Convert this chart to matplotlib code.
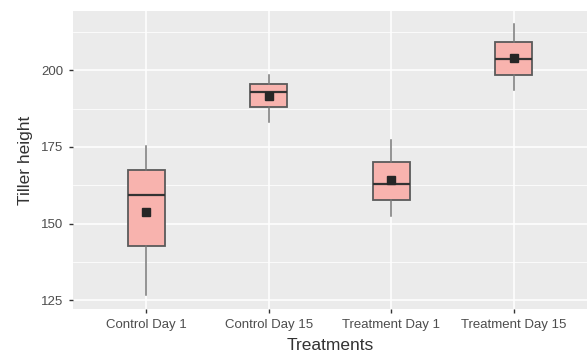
import matplotlib
matplotlib.use("Agg")
import matplotlib.pyplot as plt

plt.rcParams['font.family'] = ['Liberation Sans', 'DejaVu Sans']

# values
groups = ['Control Day 1', 'Control Day 15', 'Treatment Day 1', 'Treatment Day 15']
whislo = [126.7, 183.0, 152.6, 193.6]
q1 = [142.8, 187.9, 157.7, 198.6]
med = [159.3, 193.0, 162.9, 203.6]
q3 = [167.4, 195.6, 170.0, 209.2]
whishi = [175.4, 198.5, 177.2, 215.0]
means = [153.8, 191.5, 164.2, 204.0]

stats = []
for i in range(len(groups)):
    stats.append(dict(label=groups[i], whislo=whislo[i], q1=q1[i], med=med[i],
                      q3=q3[i], whishi=whishi[i], mean=means[i], fliers=[]))

fig = plt.figure(figsize=(5.87, 3.62), dpi=100)
ax = fig.add_axes([73/587, 1-309/362, 1-73/587, 298/362])
ax.set_facecolor('#EBEBEB')

pos = list(range(1, len(groups)+1))
ax.bxp(stats, positions=pos, widths=0.3, patch_artist=True, showmeans=True,
       showcaps=False, showfliers=False,
       boxprops=dict(facecolor='#F8B3AE', edgecolor='#5a5a5a', linewidth=1.3),
       medianprops=dict(color='#333333', linewidth=1.6),
       whiskerprops=dict(color='#777777', linewidth=1.1),
       meanprops=dict(marker='s', markerfacecolor='#262626', markeredgecolor='#262626',
                      markersize=6),
       zorder=3)

ax.set_xlim(0.4, 4.6)
ax.set_ylim(122.2, 219.3)
ax.set_yticks([125, 150, 175, 200])
ax.set_yticks([137.5, 162.5, 187.5, 212.5], minor=True)
ax.set_xticks(pos)
ax.set_xticklabels(groups)

ax.grid(True, which='major', color='white', linewidth=1.1, zorder=0)
ax.grid(True, which='minor', axis='y', color='white', linewidth=0.55, zorder=0)
ax.set_axisbelow(True)
for s in ax.spines.values():
    s.set_visible(False)

ax.tick_params(axis='both', which='major', length=3, width=1, color='#333333',
               labelsize=9.5, labelcolor='#4D4D4D', pad=4)
ax.tick_params(which='minor', length=0)

ax.set_xlabel('Treatments', fontsize=12.5, color='#333333', labelpad=5)
ax.set_ylabel('Tiller height', fontsize=12.5, color='#333333', labelpad=6)

fig.savefig('out.png', dpi=100)
